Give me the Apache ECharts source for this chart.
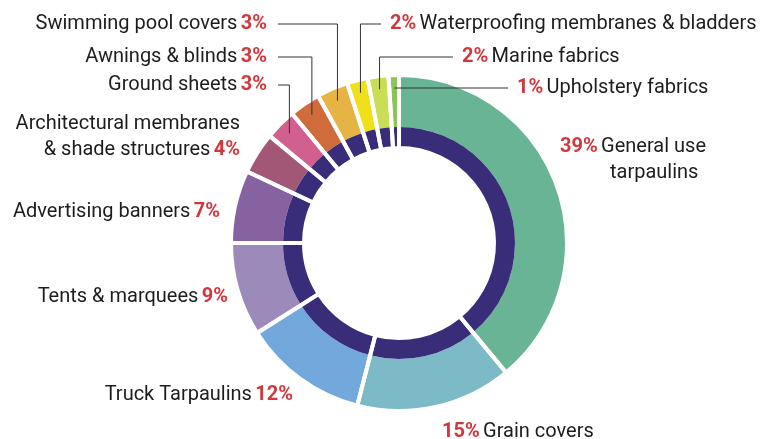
<!DOCTYPE html>
<html>
<head>
<meta charset="utf-8">
<script src="https://cdn.jsdelivr.net/npm/echarts@6/dist/echarts.min.js"></script>
<style>
  html, body { margin: 0; padding: 0; background: #fff; }
  #main { width: 771px; height: 439px; }
</style>
</head>
<body>
<div id="main"></div>
<script>
// 数据
const categories = [
  'General use tarpaulins', 'Grain covers', 'Truck Tarpaulins', 'Tents & marquees',
  'Advertising banners', 'Architectural membranes & shade structures', 'Ground sheets',
  'Awnings & blinds', 'Swimming pool covers', 'Waterproofing membranes & bladders',
  'Marine fabrics', 'Upholstery fabrics'
];
const shares = [39, 15, 12, 9, 7, 4, 3, 3, 3, 2, 2, 1];
const colors = [
  '#68b494', '#7bbac6', '#72a8dc', '#9b8aba', '#8663a0', '#a35777',
  '#d2608f', '#d06c3b', '#e6b445', '#f0e01a', '#c9de55', '#8cc45a'
];
const innerColor = '#392d7a';

// 标签位置（布局）
const cx = 399, cy = 243;
const labelSpots = [
  { x: 560, y: 160, align: 'left', wrap: 2, indent: 50 },
  { x: 442, y: 432, align: 'left' },
  { x: 293, y: 395, align: 'right' },
  { x: 228, y: 297, align: 'right' },
  { x: 220, y: 212, align: 'right' },
  { x: 240, y: 137, align: 'right', wrap: 2 },
  { x: 267, y: 85, align: 'right', line: true },
  { x: 267, y: 57, align: 'right', line: true },
  { x: 267, y: 24, align: 'right', line: true },
  { x: 390, y: 24, align: 'left', line: true },
  { x: 462, y: 57, align: 'left', line: true },
  { x: 517, y: 88, align: 'left', line: true }
];

function labelText(i) {
  const s = labelSpots[i];
  const pct = '{p|' + shares[i] + '%}';
  const words = categories[i].split(' ');
  let lines = [categories[i]];
  if (s.wrap) lines = [words.slice(0, s.wrap).join(' '), words.slice(s.wrap).join(' ')];
  if (s.align === 'right') {
    return lines.map((l, k) => '{n|' + l + '}' + (k === lines.length - 1 ? ' ' + pct : '')).join('\n');
  }
  return lines.map((l, k) => k === 0 ? pct + ' {n|' + l + '}' : (s.indent ? '{sp| }' : '') + '{n|' + l + '}').join('\n');
}

const font = 'Roboto, "Liberation Sans", sans-serif';
const myChart = echarts.init(document.getElementById('main'));

const ringBase = {
  type: 'pie',
  center: [cx, cy],
  startAngle: 90,
  clockwise: true,
  silent: true,
  label: { show: false },
  labelLine: { show: false }
};

const option = {
  animation: false,
  series: [
    Object.assign({}, ringBase, {
      radius: [116, 168],
      z: 2,
      data: categories.map((c, i) => ({ name: c, value: shares[i], itemStyle: { color: colors[i] } }))
    }),
    Object.assign({}, ringBase, {
      radius: [95, 116],
      z: 3,
      itemStyle: { color: innerColor },
      data: categories.map((c, i) => ({ name: c, value: shares[i] }))
    }),
    Object.assign({}, ringBase, {
      // 白色分隔线
      radius: [95, 168],
      z: 4,
      itemStyle: { color: 'rgba(0,0,0,0)', borderColor: '#fff', borderWidth: 4 },
      data: categories.map((c, i) => ({ name: c, value: shares[i] }))
    }),
    Object.assign({}, ringBase, {
      // 标签和引线
      radius: [116, 168],
      z: 5,
      avoidLabelOverlap: false,
      itemStyle: { color: 'rgba(0,0,0,0)' },
      data: categories.map((c, i) => ({
        name: c,
        value: shares[i],
        labelLine: { show: !!labelSpots[i].line }
      })),
      label: {
        show: true,
        position: 'outside',
        formatter: p => labelText(p.dataIndex),
        rich: {
          n: { fontFamily: font, fontSize: 20, color: '#1d1d1b', lineHeight: 26 },
          p: { fontFamily: font, fontSize: 20, fontWeight: 'bold', color: '#d2373c', lineHeight: 26 },
          sp: { width: 50 }
        }
      },
      labelLine: { show: true, lineStyle: { color: '#333', width: 1 } },
      labelLayout: function (params) {
        const s = labelSpots[params.dataIndex];
        const out = { x: s.x, y: s.y, align: s.align, verticalAlign: 'middle' };
        const pts = params.labelLinePoints;
        if (s.line && pts) {
          const dx = pts[0][0] - cx, dy = pts[0][1] - cy;
          const d = Math.sqrt(dx * dx + dy * dy);
          const k = (d - 13) / d;
          const sx = cx + dx * k, sy = cy + dy * k;
          const ex = s.align === 'right' ? s.x + 11 : s.x - 9;
          out.labelLinePoints = [[sx, sy], [sx, s.y], [ex, s.y]];
        }
        return out;
      }
    })
  ]
};

myChart.setOption(option);
</script>
</body>
</html>
